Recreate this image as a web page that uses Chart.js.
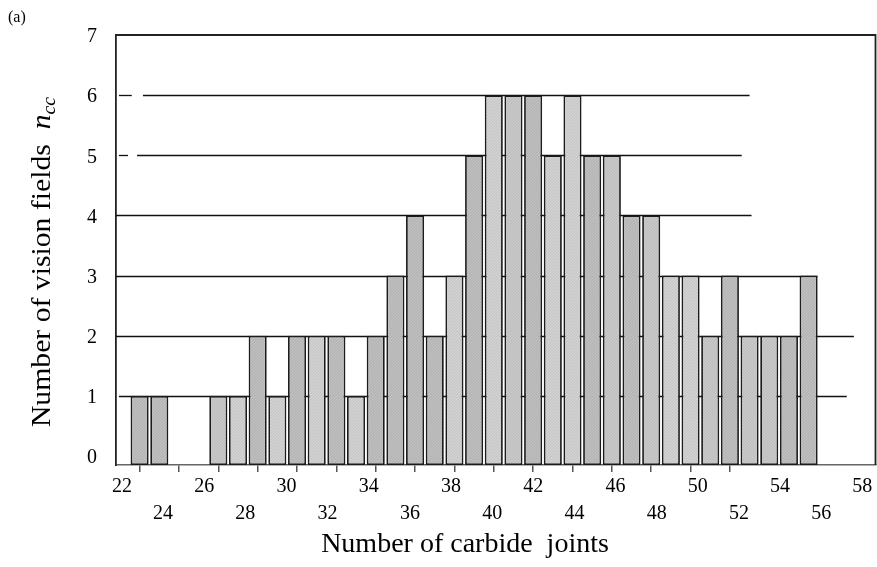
<!DOCTYPE html>
<html>
<head>
<meta charset="utf-8">
<style>
  html, body { margin: 0; padding: 0; background: #fff; }
  #wrap { width: 877px; height: 567px; }
</style>
<script src="https://cdn.jsdelivr.net/npm/chart.js@4/dist/chart.umd.min.js"></script>
</head>
<body>
<div id="wrap"><canvas id="myChart"></canvas></div>
<script>
// data
const joints = [22, 23, 26, 27, 28, 29, 30, 31, 32, 33, 34, 35, 36, 37, 38, 39, 40,
  41, 42, 43, 44, 45, 46, 47, 48, 49, 50, 51, 52, 53, 54, 55, 56]
const fields = [1, 1, 1, 1, 2, 1, 2, 2, 2, 1, 2, 3, 4, 2, 3, 5, 6,
  6, 6, 5, 6, 5, 5, 4, 4, 3, 3, 2, 3, 2, 2, 2, 3]
const yTicks = [0, 1, 2, 3, 4, 5, 6, 7]
const xTickLabels = [22, 24, 26, 28, 30, 32, 34, 36, 38, 40, 42, 44, 46, 48, 50, 52, 54, 56, 58]
const xTickMarks = [22, 24, 26, 28, 30, 32, 34, 36, 38, 40, 42, 44, 46, 48, 50, 52]

// bar shade per bar (d = dark, m = medium, l = light)
const shades = ['d', 'd', 'm', 'l', 'd', 'l', 'd', 'l', 'd', 'l', 'd', 'd', 'd', 'd', 'l', 'd', 'l',
  'm', 'd', 'l', 'l', 'd', 'm', 'd', 'm', 'l', 'l', 'm', 'd', 'm', 'm', 'd', 'd']

// horizontal guide lines: level, start and end (x units)
const gridLevel = [6, 6, 5, 5, 4, 3, 2, 1]
const gridFrom = [20.95, 22.17, 20.95, 21.87, 20.8, 20.8, 20.8, 20.95]
const gridTo = [21.6, 53.0, 21.41, 52.6, 53.1, 56.45, 58.3, 57.94]

const SERIF = "'Liberation Serif', 'Times New Roman', serif"
const ctx = document.getElementById('myChart')

// small dotted texture like the printed bars
function makePattern(base, dot) {
  const c = document.createElement('canvas')
  c.width = 3; c.height = 3
  const g = c.getContext('2d')
  g.fillStyle = base
  g.fillRect(0, 0, 3, 3)
  g.fillStyle = dot
  g.fillRect(0, 0, 1, 1)
  g.fillRect(2, 1, 1, 1)
  g.fillRect(1, 2, 1, 1)
  return g.createPattern(c, 'repeat')
}
const patterns = {
  d: makePattern('#b5b5b5', '#c3c3c3'),
  m: makePattern('#c0c0c0', '#cccccc'),
  l: makePattern('#c8c8c8', '#d7d7d7'),
}

const decor = {
  id: 'decor',
  beforeDatasetsDraw(chart) {
    const c = chart.ctx
    const xs = chart.scales.x
    const ys = chart.scales.y
    c.save()
    c.strokeStyle = '#111'
    c.lineWidth = 1.3
    for (let i = 0; i < gridLevel.length; i++) {
      const y = Math.round(ys.getPixelForValue(gridLevel[i])) + 0.5
      c.beginPath()
      c.moveTo(xs.getPixelForValue(gridFrom[i]), y)
      c.lineTo(xs.getPixelForValue(gridTo[i]), y)
      c.stroke()
    }
    c.restore()
  },
  afterDatasetsDraw(chart) {
    const c = chart.ctx
    const a = chart.chartArea
    c.save()
    c.strokeStyle = '#222'
    c.lineWidth = 1.8
    c.beginPath()
    c.moveTo(a.left, a.top)
    c.lineTo(a.right, a.top)
    c.lineTo(a.right, a.bottom)
    c.stroke()
    c.restore()
  },
  afterDraw(chart) {
    const c = chart.ctx
    c.save()
    c.fillStyle = '#000'
    // panel tag
    c.font = '16px ' + SERIF
    c.textAlign = 'left'
    c.textBaseline = 'alphabetic'
    c.fillText('(a)', 8, 22)

    // x title
    c.font = '28px ' + SERIF
    c.textAlign = 'center'
    c.fillText('Number of carbide  joints', 465, 552)

    // y title with italic n and subscript cc (slightly widened like the original)
    c.translate(50, 262)
    c.rotate(-Math.PI / 2)
    c.scale(1.1, 1)
    c.textAlign = 'left'
    const t1 = 'Number of vision fields  '
    c.font = '27px ' + SERIF
    const w1 = c.measureText(t1).width
    c.font = 'italic 27px ' + SERIF
    const w2 = c.measureText('n').width
    c.font = 'italic 18px ' + SERIF
    const w3 = c.measureText('cc').width
    let x0 = -(w1 + w2 + w3) / 2
    c.font = '27px ' + SERIF
    c.fillText(t1, x0, 0)
    c.font = 'italic 27px ' + SERIF
    c.fillText('n', x0 + w1, 0)
    c.font = 'italic 18px ' + SERIF
    c.fillText('cc', x0 + w1 + w2, 5)
    c.restore()
  }
}

new Chart(ctx, {
  type: 'bar',
  data: {
    datasets: [{
      data: joints.map((j, i) => ({ x: j, y: fields[i] })),
      backgroundColor: shades.map(s => patterns[s]),
      borderColor: '#1c1c1c',
      borderWidth: 1.8,
      borderSkipped: false,
      barPercentage: 0.92,
      categoryPercentage: 1,
      base: -0.15,
    }]
  },
  options: {
    responsive: true,
    maintainAspectRatio: false,
    animation: false,
    layout: { padding: { left: 0, right: 1.5, top: 35, bottom: 48 } },
    plugins: {
      legend: { display: false },
      tooltip: { enabled: false },
    },
    scales: {
      x: {
        type: 'linear',
        position: 'bottom',
        weight: 0,
        offset: false,
        min: 20.8,
        max: 59.4,
        grid: { offset: false, drawOnChartArea: false, drawTicks: true, tickLength: 7, color: '#555', lineWidth: 1.5 },
        border: { display: true, color: '#666', width: 1.5 },
        ticks: { display: false, stepSize: 2 },
        afterBuildTicks: scale => {
          scale.ticks = xTickMarks.map(v => ({ value: v }))
        },
        afterFit: scale => { scale.height = 0 },
      },
      xl: {
        type: 'linear',
        position: 'bottom',
        weight: 1,
        offset: false,
        min: 21.71,
        max: 58.64,
        grid: { display: false, offset: false },
        border: { display: false },
        ticks: {
          autoSkip: false,
          maxRotation: 0,
          padding: 0,
          color: '#000',
          font: { family: SERIF, size: 20, lineHeight: 1.35 },
          callback: v => (v % 4 === 2) ? String(v) : ['', String(v)],
        },
        afterBuildTicks: scale => {
          scale.ticks = xTickLabels.map(v => ({ value: v }))
        },
        afterFit: scale => { scale.height = 54 },
      },
      y: {
        min: -0.15,
        max: 7,
        grid: { display: false },
        border: { display: true, color: '#222', width: 1.8 },
        ticks: { color: '#000', padding: 11, labelOffset: 2, font: { family: SERIF, size: 20 } },
        afterBuildTicks: scale => {
          scale.ticks = yTicks.map(v => ({ value: v }))
        },
        afterFit: scale => { scale.width = 116 },
      }
    }
  },
  plugins: [decor]
});
</script>
</body>
</html>
